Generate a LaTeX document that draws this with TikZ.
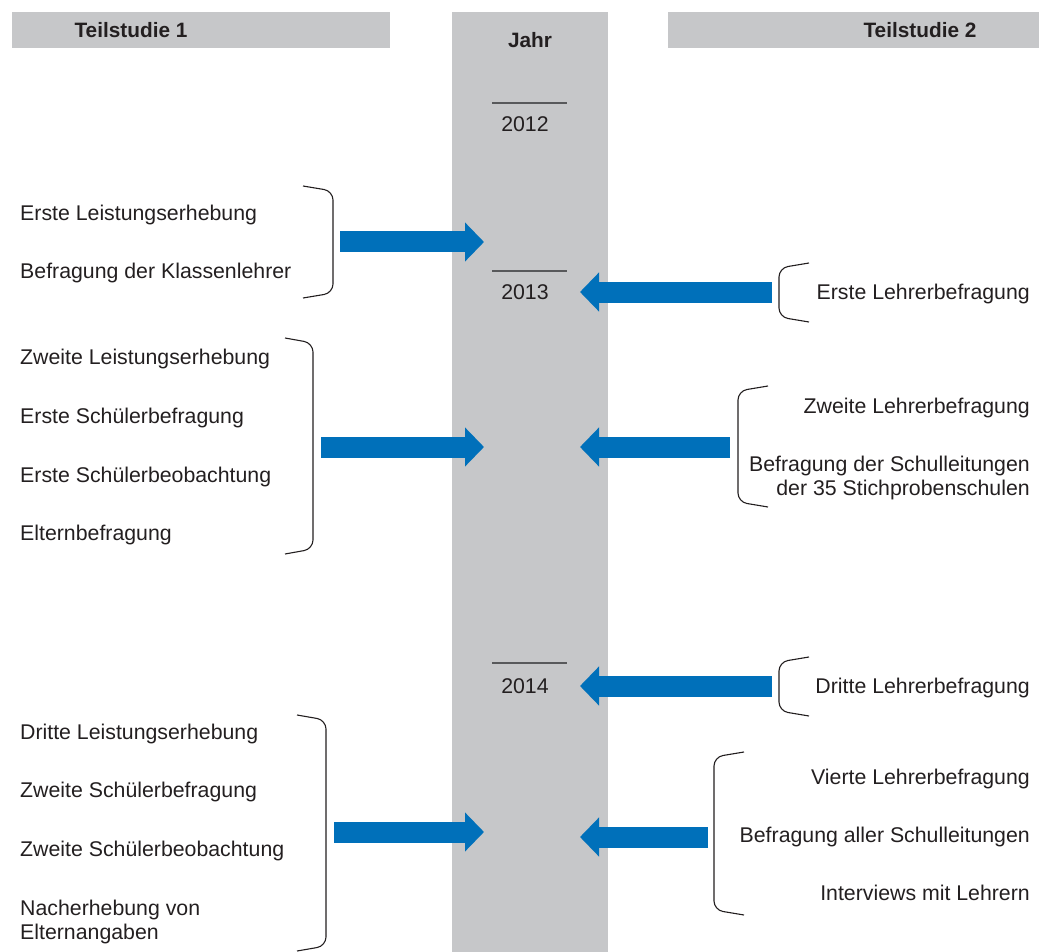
\documentclass[tikz,border=0pt]{standalone}
\usepackage{fontspec}
\setmainfont{Liberation Sans}
\usetikzlibrary{arrows.meta,positioning}

\definecolor{colgray}{RGB}{198,199,201}
\definecolor{arrowblue}{RGB}{0,112,186}
\definecolor{textgray}{RGB}{35,31,32}
\definecolor{linegray}{RGB}{88,89,91}

\tikzset{
  headtext/.style={font=\fontsize{20.8}{24}\selectfont\bfseries, text=textgray, inner sep=0pt},
  item/.style={font=\fontsize{21.3}{24.5}\selectfont, text=textgray, inner sep=0pt, text height=15pt, text depth=4pt, yshift=-2pt},
  leftitem/.style={item, anchor=west, align=left},
  rightitem/.style={item, anchor=east, align=right},
  yearline/.style={draw=linegray, line width=1.1pt},
  bracket/.style={draw=textgray, line width=1.1pt, rounded corners=9pt},
  blockarrow/.style={draw=arrowblue, line width=21pt, -{Triangle[width=38pt,length=19pt]}}
}

% bracket: end x, spine x, top y, bottom y
\newcommand{\bracketpath}[4]{\draw[bracket] (#1,#3) -- (#2,#3+5) -- (#2,#4-5) -- (#1,#4);}

\begin{document}
\begin{tikzpicture}[x=1pt,y=-1pt]
			\useasboundingbox (0,0) rectangle (1039,952);
			
			% Column and headers
			\fill[colgray] (452,12) rectangle (608,952);
			\fill[colgray] (12,12) rectangle (390,48);
			\fill[colgray] (668,12) rectangle (1039,48);
			\node[headtext] (head1) at (131,30) {Teilstudie 1};
			\node[headtext] (headyear) at (530,40) {Jahr};
			\node[headtext] (head2) at (920,30) {Teilstudie 2};
			
			% Years
			\node[item] (y2012) at (525,124) {2012};
			\node[item] (y2013) at (525,292) {2013};
			\node[item] (y2014) at (525,686) {2014};
			\draw[yearline] (492,103) -- (567,103);
			\draw[yearline] (492,271) -- (567,271);
			\draw[yearline] (492,663) -- (567,663);
			
			% Teilstudie 1
			\node[leftitem] (l1a) at (20,213) {Erste Leistungserhebung};
			\node[leftitem] (l1b) at (20,271) {Befragung der Klassenlehrer};
			\bracketpath{303}{333}{186}{298}
			
			\node[leftitem] (l2a) at (20,357) {Zweite Leistungserhebung};
			\node[leftitem] (l2b) at (20,416) {Erste Schülerbefragung};
			\node[leftitem] (l2c) at (20,475) {Erste Schülerbeobachtung};
			\node[leftitem] (l2d) at (20,533) {Elternbefragung};
			\bracketpath{285}{313}{338}{554}
			
			\node[leftitem] (l3a) at (20,732) {Dritte Leistungserhebung};
			\node[leftitem] (l3b) at (20,790) {Zweite Schülerbefragung};
			\node[leftitem] (l3c) at (20,849) {Zweite Schülerbeobachtung};
			\node[leftitem, text height=, text depth=] (l3d) at (20,920) {Nacherhebung von\\Elternangaben};
			\bracketpath{297}{326}{715}{951}
			
			% Teilstudie 2
			\node[rightitem] (r1a) at (1030,292) {Erste Lehrerbefragung};
			\bracketpath{809}{779}{263}{322}
			
			\node[rightitem] (r2a) at (1030,406) {Zweite Lehrerbefragung};
			\node[rightitem, text height=, text depth=] (r2b) at (1030,476) {Befragung der Schulleitungen\\der 35 Stichprobenschulen};
			\bracketpath{768}{738}{386}{507}
			
			\node[rightitem] (r3a) at (1030,686) {Dritte Lehrerbefragung};
			\bracketpath{809}{779}{657}{716}
			
			\node[rightitem] (r4a) at (1030,777) {Vierte Lehrerbefragung};
			\node[rightitem] (r4b) at (1030,835) {Befragung aller Schulleitungen};
			\node[rightitem] (r4c) at (1030,893) {Interviews mit Lehrern};
			\bracketpath{744}{714}{752}{915}
			
			% Arrows
			\coordinate (a1s) at (340,242);  \coordinate (a1t) at (484,242);
			\coordinate (a2s) at (772,292);  \coordinate (a2t) at (580,292);
			\coordinate (a3s) at (321,447);  \coordinate (a3t) at (484,447);
			\coordinate (a4s) at (730,447);  \coordinate (a4t) at (580,447);
			\coordinate (a5s) at (772,686);  \coordinate (a5t) at (580,686);
			\coordinate (a6s) at (334,832);  \coordinate (a6t) at (484,832);
			\coordinate (a7s) at (708,837);  \coordinate (a7t) at (580,837);
			\foreach \a in {a1,a2,a3,a4,a5,a6,a7}
				\draw[blockarrow] (\a s) -- (\a t);
		\end{tikzpicture}
\end{document}
